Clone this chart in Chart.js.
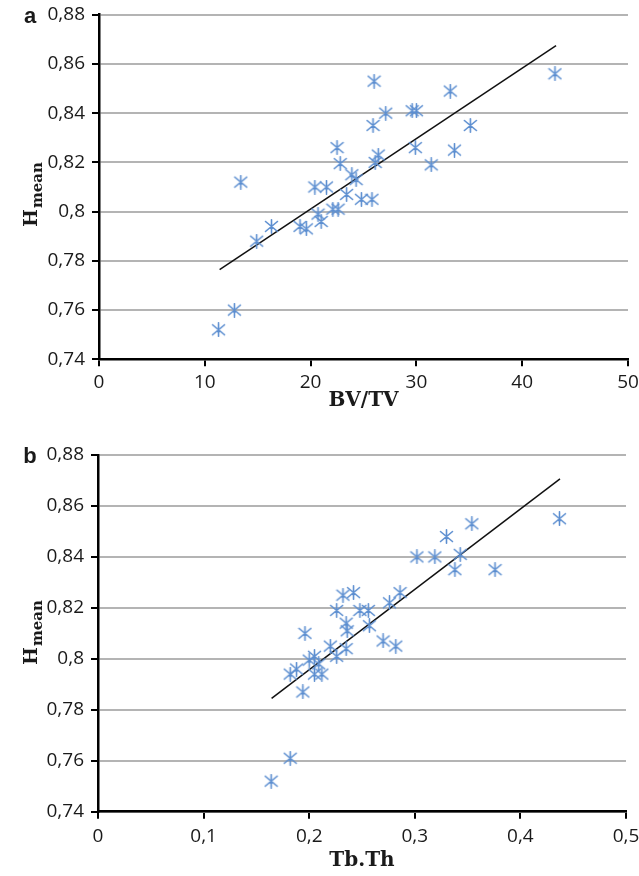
<!DOCTYPE html>
<html><head><meta charset="utf-8">
<script src="https://cdn.jsdelivr.net/npm/chart.js@4"></script>
<style>
html,body{margin:0;padding:0;background:#fff;width:639px;height:876px;overflow:hidden}
.box{position:absolute;left:0;width:639px}
#wa{top:0;height:430px}
#wb{top:440px;height:436px}
</style></head><body>
<div class="box" id="wa"><canvas id="ca"></canvas></div>
<div class="box" id="wb"><canvas id="cb"></canvas></div>
<script>
// ---- data ----
const hMeanTicks = [0.74, 0.76, 0.78, 0.80, 0.82, 0.84, 0.86, 0.88];
const bvtvTicks = [0, 10, 20, 30, 40, 50];
const tbthTicks = [0, 0.1, 0.2, 0.3, 0.4, 0.5];

const bvtv = [11.3, 12.8, 13.4, 14.9, 16.3, 19.0, 19.6, 20.4, 20.7, 21.0, 21.5, 22.1, 22.6, 22.5, 22.8, 23.4, 23.9, 24.3, 24.8, 25.8, 25.9, 26.0, 26.1, 26.4, 27.1, 29.6, 30.0, 29.9, 31.4, 33.2, 33.6, 35.1, 43.1];
const hmeanA = [0.752, 0.760, 0.812, 0.788, 0.794, 0.794, 0.793, 0.810, 0.799, 0.796, 0.810, 0.801, 0.801, 0.826, 0.8195, 0.807, 0.815, 0.813, 0.805, 0.805, 0.835, 0.853, 0.820, 0.823, 0.840, 0.841, 0.841, 0.826, 0.819, 0.849, 0.825, 0.835, 0.856];

const tbth = [0.164, 0.182, 0.194, 0.182, 0.188, 0.196, 0.200, 0.205, 0.205, 0.209, 0.212, 0.220, 0.226, 0.235, 0.226, 0.232, 0.242, 0.235, 0.236, 0.248, 0.256, 0.257, 0.270, 0.282, 0.276, 0.286, 0.302, 0.319, 0.330, 0.343, 0.338, 0.354, 0.376, 0.437];
const hmeanB = [0.752, 0.761, 0.787, 0.794, 0.796, 0.810, 0.7995, 0.801, 0.794, 0.798, 0.794, 0.805, 0.801, 0.804, 0.819, 0.825, 0.826, 0.814, 0.811, 0.819, 0.819, 0.813, 0.807, 0.805, 0.822, 0.826, 0.840, 0.840, 0.848, 0.841, 0.835, 0.853, 0.835, 0.855];

const trendAX = [11.4, 43.2];
const trendAY = [0.7764, 0.8674];
const trendBX = [0.1644, 0.4375];
const trendBY = [0.7845, 0.8706];

// ---- marker ----
function makeStar(){
  const c = document.createElement('canvas');
  c.width = 15; c.height = 15;
  const g = c.getContext('2d');
  g.strokeStyle = 'rgb(92,142,208)';
  g.lineWidth = 1.6;
  g.lineCap = 'round';
  g.beginPath();
  g.moveTo(7.5, 0.8); g.lineTo(7.5, 14.2);
  g.moveTo(1.5, 2.5); g.lineTo(13.5, 12.5);
  g.moveTo(13.5, 2.5); g.lineTo(1.5, 12.5);
  g.stroke();
  return c;
}
const star = makeStar();

const fmt = v => (Math.round(v * 100) / 100).toString().replace('.', ',');
const tickFont = {family: '"Open Sans"', size: 19};

function deco(letter, titleStartY){
  return {
    id: 'deco' + letter,
    afterDraw(chart){
      const ctx = chart.ctx;
      ctx.save();
      ctx.fillStyle = '#1a1a1a';
      ctx.font = 'bold 22px "Liberation Sans"';
      ctx.textAlign = 'center';
      ctx.textBaseline = 'middle';
      ctx.fillText(letter, 30, 17);
      ctx.translate(37, titleStartY);
      ctx.rotate(-Math.PI / 2);
      ctx.textAlign = 'left';
      ctx.textBaseline = 'alphabetic';
      ctx.font = 'bold 19px "DejaVu Serif"';
      ctx.fillText('H', 0, 0);
      const w = ctx.measureText('H').width;
      ctx.font = 'bold 15px "DejaVu Serif"';
      ctx.fillText('mean', w + 1, 5);
      ctx.restore();
    }
  };
}

function build(id, xs, ys, tx, ty, xTicks, xTitle, cfg){
  const pts = xs.map((x, i) => ({x, y: ys[i]}));
  const tr = tx.map((x, i) => ({x, y: ty[i]}));
  const xStep = xTicks[1] - xTicks[0];
  const yStep = hMeanTicks[1] - hMeanTicks[0];
  return new Chart(document.getElementById(id), {
    type: 'scatter',
    data: {datasets: [
      {data: pts, pointStyle: star, pointRadius: 7, showLine: false},
      {data: tr, type: 'line', showLine: true, borderColor: '#111', borderWidth: 1.5, pointRadius: 0, fill: false}
    ]},
    options: {
      responsive: true, maintainAspectRatio: false, animation: false, events: [],
      layout: {padding: {left: 0, right: cfg.padRight, top: cfg.padTop, bottom: 0}},
      plugins: {legend: {display: false}, tooltip: {enabled: false}},
      scales: {
        x: {
          type: 'linear', min: xTicks[0], max: xTicks[xTicks.length - 1],
          ticks: {stepSize: xStep, callback: fmt, font: tickFont, color: '#1a1a1a', padding: cfg.xPad, maxRotation: 0},
          grid: {drawOnChartArea: false, drawTicks: true, tickLength: 7, color: '#000', lineWidth: 2},
          border: {color: '#000', width: 2.5},
          title: {display: true, text: xTitle, font: {family: '"DejaVu Serif"', weight: 'bold', size: 20}, color: '#1a1a1a', padding: {top: 0, bottom: cfg.titlePad}},
          afterFit(s){ s.height = cfg.xH; s.paddingLeft = 0; s.paddingRight = 0; }
        },
        y: {
          type: 'linear', min: hMeanTicks[0], max: hMeanTicks[hMeanTicks.length - 1],
          ticks: {stepSize: yStep, callback: fmt, font: tickFont, color: '#1a1a1a', padding: 7},
          grid: {color: '#b4b4b4', lineWidth: 2, tickColor: '#000', tickLength: 7, tickWidth: 2},
          border: {color: '#000', width: 2.5},
          afterFit(s){ s.width = cfg.yW; s.paddingTop = 0; s.paddingBottom = 0; }
        }
      }
    },
    plugins: [deco(cfg.letter, cfg.titleY)]
  });
}

build('ca', bvtv, hmeanA, trendAX, trendAY, bvtvTicks, 'BV/TV',
  {padRight: 11, padTop: 14.7, xH: 70.7, yW: 99, xPad: 5, titlePad: 17, letter: 'a', titleY: 227});
build('cb', tbth, hmeanB, trendBX, trendBY, tbthTicks, 'Tb.Th',
  {padRight: 13, padTop: 15, xH: 64.3, yW: 98, xPad: 6, titlePad: 3, letter: 'b', titleY: 225});
</script>
</body></html>
